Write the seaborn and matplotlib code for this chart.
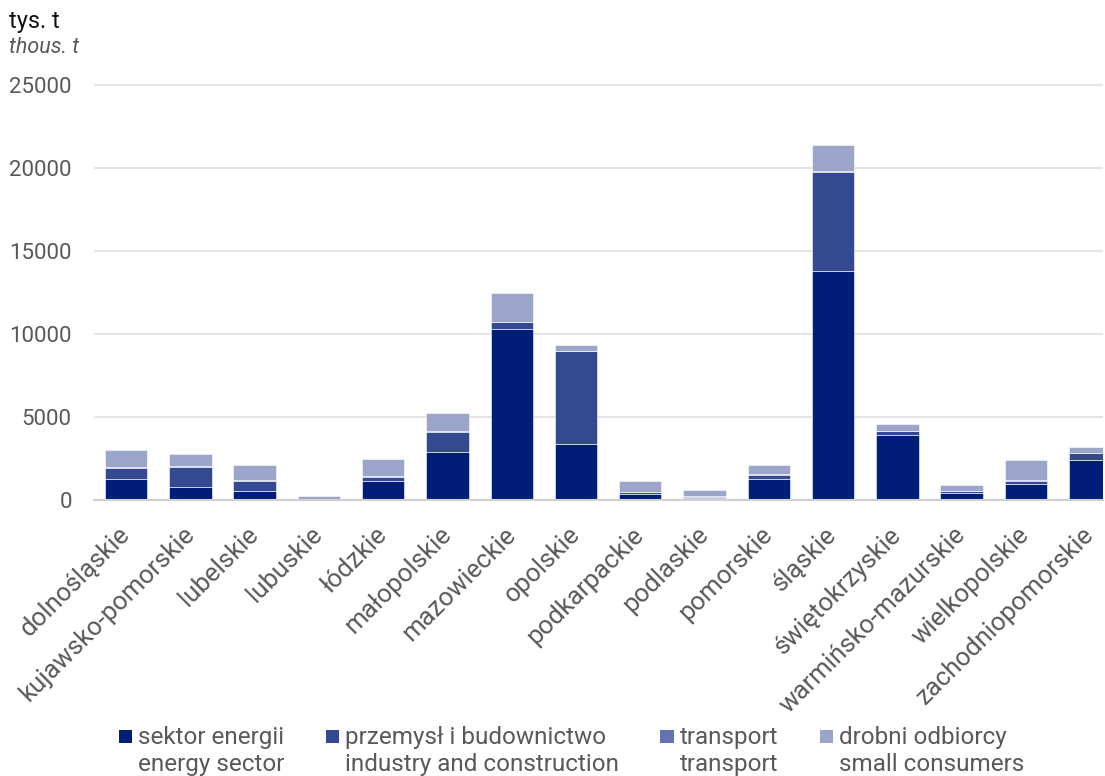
import matplotlib
matplotlib.use("Agg")
import matplotlib.pyplot as plt
import seaborn as sns
import numpy as np
from matplotlib.patches import Rectangle
from matplotlib.legend_handler import HandlerPatch

# emissions by voivodeship, thousand tonnes
regions = ["dolnośląskie", "kujawsko-pomorskie", "lubelskie", "lubuskie", "łódzkie",
           "małopolskie", "mazowieckie", "opolskie", "podkarpackie", "podlaskie",
           "pomorskie", "śląskie", "świętokrzyskie", "warmińsko-mazurskie",
           "wielkopolskie", "zachodniopomorskie"]
energy = [1265, 780, 535, 30, 1170, 2910, 10320, 3410, 350, 135, 1265, 13830, 3940, 415, 960, 2420]
industry = [670, 1200, 640, 30, 230, 1220, 410, 5570, 120, 90, 280, 5930, 210, 125, 230, 410]
transport = [60, 60, 55, 20, 50, 55, 30, 30, 45, 30, 50, 80, 35, 40, 55, 40]
small = [1015, 730, 870, 195, 1015, 1060, 1730, 360, 670, 365, 505, 1560, 405, 345, 1155, 320]

series_labels = ["sektor energii\nenergy sector",
                 "przemysł i budownictwo\nindustry and construction",
                 "transport\ntransport",
                 "drobni odbiorcy\nsmall consumers"]
colors = ["#001e78", "#334a93", "#6472b0", "#9ba5ca"]
yticks = [0, 5000, 10000, 15000, 20000, 25000]

sns.set_theme(style="white")
plt.rcParams["font.family"] = ["Roboto", "DejaVu Sans"]
text_grey = "#595959"

fig = plt.figure(figsize=(11.05, 7.76), dpi=100)
ax = fig.add_axes([94 / 1105, (776 - 500.3) / 776, (1103 - 94) / 1105, 417.0 / 776])

bottom = np.zeros(len(regions))
for vals, col in zip([energy, industry, transport, small], colors):
    sns.barplot(x=regions, y=vals, bottom=bottom, color=col, width=0.66,
                edgecolor="white", linewidth=0.4, ax=ax, errorbar=None,
                saturation=1)
    bottom = bottom + np.array(vals)

ax.set_xlim(-0.5, 15.2)
ax.set_ylim(0, 25100)
ax.set_yticks(yticks)
ax.set_yticklabels([str(v) for v in yticks])
ax.yaxis.grid(True, color="#e4e4e4", linewidth=1.5)
ax.set_axisbelow(True)
for s in ["top", "right", "left"]:
    ax.spines[s].set_visible(False)
ax.spines["bottom"].set_color("#d0d0d0")
ax.spines["bottom"].set_linewidth(1.5)
ax.tick_params(axis="y", length=0, labelsize=16, labelcolor=text_grey, pad=16)
ax.tick_params(axis="x", length=0, labelsize=18.5, labelcolor=text_grey, pad=22)
plt.setp(ax.get_xticklabels(), rotation=45, ha="right", va="center",
         rotation_mode="anchor")
ax.set_xlabel("")
ax.set_ylabel("")

fig.text(9 / 1105, 1 - 28 / 776, "tys. t", fontsize=17, color="#111111")
fig.text(9 / 1105, 1 - 53 / 776, "thous. t", fontsize=15.5, color=text_grey, style="italic")


def square_top(legend, orig_handle, xdescent, ydescent, width, height, fontsize):
    size = 0.55 * fontsize
    return Rectangle((width - size, height / 2 - size / 2 + 0.62 * fontsize), size, size)


handles = [Rectangle((0, 0), 1, 1, facecolor=c, edgecolor="none") for c in colors]
leg = fig.legend(handles, series_labels, loc="lower left", ncol=4,
                 bbox_to_anchor=(104 / 1105, -0.012), frameon=False,
                 fontsize=17.5, handlelength=0.75, handletextpad=0.25,
                 columnspacing=1.5, borderaxespad=0.0,
                 handler_map={Rectangle: HandlerPatch(patch_func=square_top)})
for t in leg.get_texts():
    t.set_color(text_grey)
    t.set_linespacing(1.2)

fig.savefig("out.png", dpi=100)
